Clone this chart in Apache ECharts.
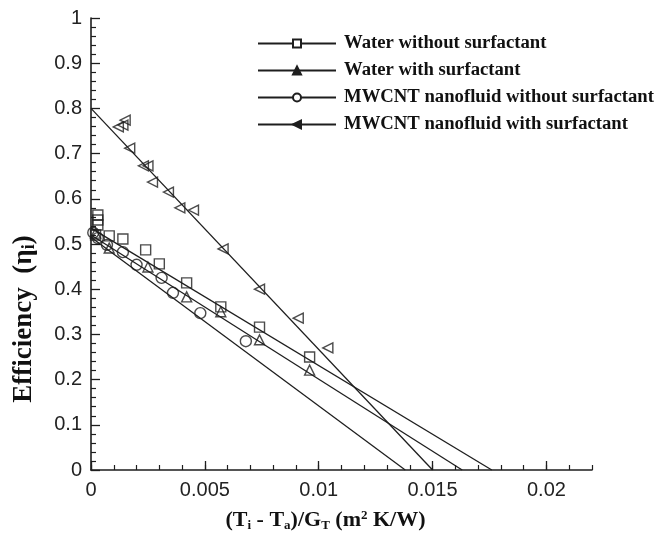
<!DOCTYPE html>
<html>
<head>
<meta charset="utf-8">
<script src="https://cdn.jsdelivr.net/npm/echarts@6/dist/echarts.min.js"></script>
<style>
html, body { margin: 0; padding: 0; background: #fff; }
#main { width: 665px; height: 544px; }
</style>
</head>
<body>
<div id="main"></div>
<script>
// (Ti - Ta)/GT values and efficiencies
var waterNoSurfX = [0.0003, 0.0003, 0.0003, 0.0002, 0.0008, 0.0014, 0.0024, 0.0030, 0.0042, 0.0057, 0.0074, 0.0096];
var waterNoSurfY = [0.564, 0.553, 0.542, 0.52, 0.518, 0.511, 0.487, 0.456, 0.414, 0.361, 0.316, 0.25];

var waterSurfX = [0.0002, 0.0008, 0.0025, 0.0042, 0.0057, 0.0074, 0.0096];
var waterSurfY = [0.524, 0.491, 0.449, 0.383, 0.35, 0.288, 0.221];

var cntNoSurfX = [0.0001, 0.0003, 0.0007, 0.0014, 0.0020, 0.0031, 0.0036, 0.0048, 0.0068];
var cntNoSurfY = [0.525, 0.513, 0.498, 0.482, 0.454, 0.425, 0.392, 0.347, 0.285];

var cntSurfX = [0.0012, 0.0014, 0.0015, 0.0017, 0.0023, 0.0025, 0.0027, 0.0034, 0.0039, 0.0045, 0.0058, 0.0074, 0.0091, 0.0104];
var cntSurfY = [0.759, 0.763, 0.774, 0.712, 0.673, 0.673, 0.637, 0.615, 0.58, 0.575, 0.489, 0.40, 0.336, 0.27];

// fitted lines: [y at x=0, x where y=0]
var waterNoSurfFit = [0.535, 0.0176];
var waterSurfFit = [0.52, 0.0163];
var cntNoSurfFit = [0.515, 0.0138];
var cntSurfFit = [0.8, 0.0150];

var names = ['Water without surfactant', 'Water with surfactant',
    'MWCNT nanofluid without surfactant', 'MWCNT nanofluid with surfactant'];

var xTickValues = [0, 0.005, 0.01, 0.015, 0.02];
var xTickLabels = ['0', '0.005', '0.01', '0.015', '0.02'];
var yTickLabels = ['0', '0.1', '0.2', '0.3', '0.4', '0.5', '0.6', '0.7', '0.8', '0.9', '1'];

function pairs(xs, ys) {
    return xs.map(function(x, i) { return [x, ys[i]]; });
}

var ink = '#1e1e1e';
var hollow = { color: 'rgba(255,255,255,0)', borderColor: ink, borderWidth: 1.4 };

function fitSeries(name, fit, symbol, rotate, filled) {
    return {
        name: name,
        type: 'line',
        data: [[0, fit[0]], [fit[1], 0]],
        showSymbol: false,
        symbol: symbol,
        symbolRotate: rotate,
        silent: true,
        z: 1,
        lineStyle: { color: ink, width: 1.3 },
        itemStyle: { color: filled ? ink : '#fff', borderColor: ink, borderWidth: 1.2 }
    };
}

function pointSeries(xs, ys, symbol, size, rotate) {
    return {
        name: 'pts-' + symbol + rotate,
        type: 'scatter',
        data: pairs(xs, ys),
        symbol: symbol,
        symbolSize: size,
        symbolRotate: rotate,
        z: 3,
        itemStyle: hollow
    };
}

var myChart = echarts.init(document.getElementById('main'));

var option = {
    animation: false,
    backgroundColor: '#fff',
    grid: { left: 91, right: 73, top: 18, bottom: 74 },
    legend: {
        data: names,
        orient: 'vertical',
        left: 252,
        top: 29,
        itemWidth: 78,
        itemHeight: 10,
        itemGap: 8,
        textStyle: {
            fontFamily: 'Liberation Serif', fontWeight: 'bold', fontSize: 18.7, color: '#111',
            padding: [0, 0, 0, 3]
        }
    },
    xAxis: [{
        type: 'value',
        min: 0,
        max: 0.022,
        interval: 0.005,
        name: '(T{sub|i} - T{sub|a})/G{sub|T} (m{sup|2} K/W)',
        nameLocation: 'middle',
        nameGap: 39,
        nameTextStyle: {
            fontFamily: 'Liberation Serif', fontWeight: 'bold', fontSize: 22, color: '#111',
            padding: [0, 32, 0, 0],
            rich: {
                sub: { fontFamily: 'Liberation Serif', fontWeight: 'bold', fontSize: 13, verticalAlign: 'bottom', padding: [10, 0, 0, 0] },
                sup: { fontFamily: 'Liberation Serif', fontWeight: 'bold', fontSize: 13, verticalAlign: 'top', padding: [0, 0, 8, 0] }
            }
        },
        axisLine: { lineStyle: { color: ink, width: 1.6 } },
        axisTick: { inside: true, length: 9, customValues: xTickValues, lineStyle: { color: ink, width: 1.3 } },
        axisLabel: {
            customValues: xTickValues,
            margin: 10,
            fontFamily: 'Liberation Sans', fontSize: 20, color: '#222',
            formatter: function(v) {
                var i = xTickValues.findIndex(function(t) { return Math.abs(t - v) < 1e-9; });
                return i >= 0 ? xTickLabels[i] : '';
            }
        },
        splitLine: { show: false }
    }, {
        // minor ticks every 0.001
        type: 'value',
        min: 0,
        max: 0.022,
        interval: 0.001,
        position: 'bottom',
        axisLine: { show: false },
        axisTick: { inside: true, length: 5, lineStyle: { color: ink, width: 1.2 } },
        axisLabel: { show: false },
        splitLine: { show: false }
    }],
    yAxis: {
        type: 'value',
        min: 0,
        max: 1,
        interval: 0.1,
        name: 'Efficiency  (η{sub|i})',
        nameLocation: 'middle',
        nameGap: 53,
        nameTextStyle: {
            fontFamily: 'Liberation Serif', fontWeight: 'bold', fontSize: 27, color: '#111',
            padding: [0, 150, 0, 0],
            rich: {
                sub: { fontFamily: 'Liberation Serif', fontWeight: 'bold', fontSize: 18, verticalAlign: 'bottom' }
            }
        },
        axisLine: { lineStyle: { color: ink, width: 1.6 } },
        axisTick: { inside: true, length: 9, lineStyle: { color: ink, width: 1.3 } },
        minorTick: { show: true, splitNumber: 5, length: 5, lineStyle: { color: ink, width: 1.2 } },
        axisLabel: {
            margin: 9,
            fontFamily: 'Liberation Sans', fontSize: 20, color: '#222',
            formatter: function(v) { return yTickLabels[Math.round(v * 10)]; }
        },
        splitLine: { show: false },
        minorSplitLine: { show: false }
    },
    series: [
        fitSeries(names[0], waterNoSurfFit, 'rect', 0, false),
        fitSeries(names[1], waterSurfFit, 'triangle', 0, true),
        fitSeries(names[2], cntNoSurfFit, 'circle', 0, false),
        fitSeries(names[3], cntSurfFit, 'triangle', 90, true),
        pointSeries(waterNoSurfX, waterNoSurfY, 'rect', 10, 0),
        pointSeries(waterSurfX, waterSurfY, 'triangle', 10, 0),
        pointSeries(cntNoSurfX, cntNoSurfY, 'circle', 11, 0),
        pointSeries(cntSurfX, cntSurfY, 'triangle', 10, 90)
    ]
};

myChart.setOption(option);
</script>
</body>
</html>
